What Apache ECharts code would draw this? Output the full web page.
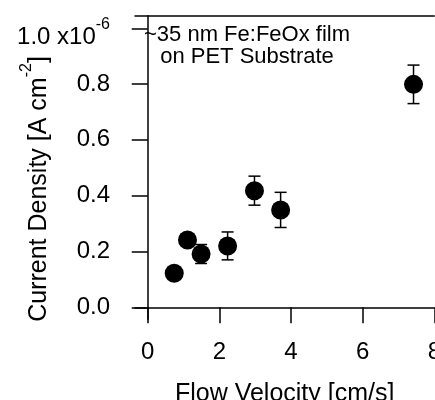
<!DOCTYPE html>
<html><head><meta charset="utf-8">
<script src="https://cdn.jsdelivr.net/npm/echarts@6/dist/echarts.min.js"></script>
<style>html,body{margin:0;padding:0;background:#fff;}#c{width:435px;height:400px;}</style>
</head><body><div id="c"></div>
<script>
const velocity = [0.74, 1.11, 1.49, 2.23, 2.98, 3.71, 7.42];
const currentDensity = [0.122, 0.241, 0.191, 0.220, 0.418, 0.349, 0.799];
const errorBar = [0.02, 0.02, 0.034, 0.05, 0.052, 0.063, 0.069];
const xTicks = [0, 2, 4, 6, 8];
const yTicks = [0, 0.2, 0.4, 0.6, 0.8, 1.0];
const xTitle = 'Flow Velocity [cm/s]';
const yTitleMain = 'Current Density [A cm';
const yTitleSup = '-2';
const annotation = ['~35 nm Fe:FeOx film', 'on PET Substrate'];

const FONT = '"Liberation Sans", Arial, sans-serif';
const chart = echarts.init(document.getElementById('c'), null, {renderer: 'canvas'});
const points = velocity.map((v, i) => [v, currentDensity[i], errorBar[i]]);
const axisLineStyle = {color: '#000', width: 1.5};

chart.setOption({
  animation: false,
  backgroundColor: '#fff',
  grid: {left: 135, top: 15.7, width: 299.3, height: 303.6, containLabel: false, outerBoundsMode: 'none'},
  xAxis: [{
    type: 'value', min: -0.355, max: 8, position: 'bottom',
    axisLine: {show: true, lineStyle: axisLineStyle},
    axisTick: {show: true, length: 16, lineStyle: axisLineStyle, customValues: xTicks},
    axisLabel: {show: true, customValues: xTicks, margin: 21, color: '#000', fontSize: 24, fontFamily: FONT,
      formatter: v => String(Math.round(v))},
    splitLine: {show: false},
    name: xTitle, nameLocation: 'middle', nameGap: 62,
    nameTextStyle: {color: '#000', fontSize: 25, fontFamily: FONT}
  }, {
    type: 'value', min: -0.355, max: 8, position: 'top',
    axisLine: {show: true, lineStyle: axisLineStyle},
    axisTick: {show: false}, axisLabel: {show: false}, splitLine: {show: false}
  }],
  yAxis: {
    type: 'value', min: -0.043, max: 1.045,
    axisLine: {show: true, lineStyle: axisLineStyle},
    axisTick: {show: true, length: 16, lineStyle: axisLineStyle, customValues: yTicks},
    axisLabel: {show: true, customValues: yTicks, margin: 25, color: '#000', fontSize: 24, fontFamily: FONT,
      formatter: v => Math.abs(v - 1) < 1e-9 ? '{m|1.0 x10}{s|-6}' : Math.abs(v).toFixed(1),
      rich: {
        m: {fontSize: 24, fontFamily: FONT, color: '#000', lineHeight: 42, verticalAlign: 'bottom'},
        s: {fontSize: 16, fontFamily: FONT, color: '#000', lineHeight: 42, verticalAlign: 'top', padding: [9, 0, 0, 0]}
      }},
    splitLine: {show: false}
  },
  graphic: [{
    type: 'text', x: 35, y: 189, rotation: Math.PI / 2,
    style: {
      text: '{m|' + yTitleMain + '}{s|' + yTitleSup + '}{m|]}',
      textAlign: 'center', textVerticalAlign: 'middle', align: 'center', verticalAlign: 'middle',
      rich: {
        m: {fontSize: 25, fontFamily: FONT, fill: '#000', color: '#000', lineHeight: 33, verticalAlign: 'bottom'},
        s: {fontSize: 16, fontFamily: FONT, fill: '#000', color: '#000', lineHeight: 33, verticalAlign: 'top'}
      }
    }
  }, {
    type: 'text', x: 247, y: 46,
    style: {
      text: annotation.join('\n'), fontSize: 22, fontFamily: FONT, fill: '#000', lineHeight: 22,
      textAlign: 'center', textVerticalAlign: 'middle', align: 'center', verticalAlign: 'middle'
    }
  }],
  series: [{
    type: 'custom', xAxisIndex: 0, yAxisIndex: 0, z: 2,
    data: points,
    renderItem: function (params, api) {
      const x = api.value(0), y = api.value(1), e = api.value(2);
      const t = api.coord([x, y + e]);
      const b = api.coord([x, y - e]);
      const hw = 6;
      const st = {stroke: '#000', lineWidth: 1.5};
      return {type: 'group', children: [
        {type: 'line', shape: {x1: t[0], y1: t[1], x2: b[0], y2: b[1]}, style: st},
        {type: 'line', shape: {x1: t[0] - hw, y1: t[1], x2: t[0] + hw, y2: t[1]}, style: st},
        {type: 'line', shape: {x1: b[0] - hw, y1: b[1], x2: b[0] + hw, y2: b[1]}, style: st}
      ]};
    }
  }, {
    type: 'scatter', xAxisIndex: 0, yAxisIndex: 0, z: 3,
    data: points.map(p => [p[0], p[1]]),
    symbol: 'circle', symbolSize: 19,
    itemStyle: {color: '#000', opacity: 1}
  }]
});
</script>
</body></html>
